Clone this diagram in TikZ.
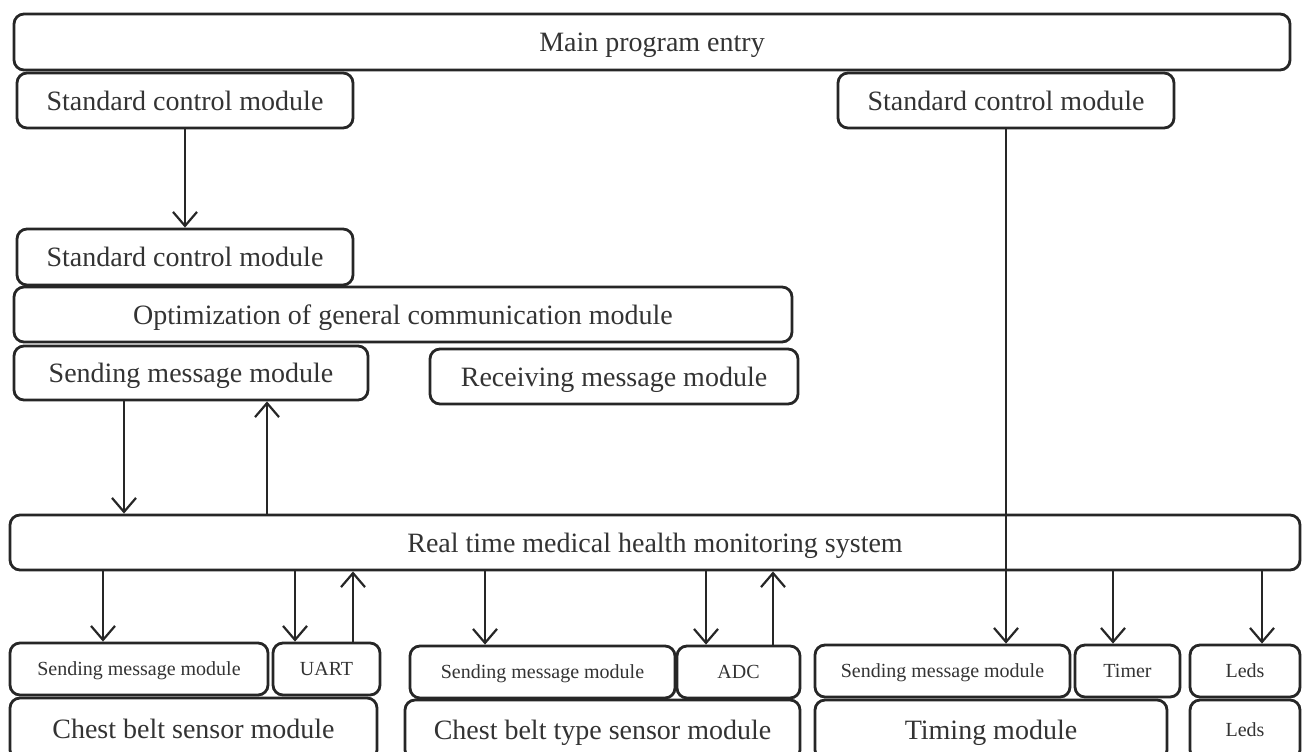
\documentclass[tikz,border=0pt]{standalone}
\usepackage{fontspec}
\setmainfont{Liberation Serif}
\usetikzlibrary{arrows.meta}
\begin{document}
\begin{tikzpicture}[x=0.5pt,y=-0.5pt,
  box/.style={draw=black!85, line width=1.4pt, rounded corners=5pt, inner sep=0pt,
    text depth=0pt, font=\fontsize{14}{16}\selectfont, text=black!80},
  sbox/.style={box, font=\fontsize{10}{12}\selectfont},
  arr/.style={draw=black!85, line width=1.1pt,
    -{Straight Barb[length=7pt,width=12pt,line width=1.1pt]}}]
\useasboundingbox (0,0) rectangle (1304,751);
\clip (0,0) rectangle (1304,751);
% top part
\node[box, minimum width=638pt, minimum height=28pt] (main) at (652,42) {Main program entry};
\node[box, minimum width=168pt, minimum height=27.5pt] (scmL) at (185,100.5) {Standard control module};
\node[box, minimum width=168pt, minimum height=27.5pt] (scmR) at (1006,100.5) {Standard control module};
\node[box, minimum width=168pt, minimum height=28pt] (scm2) at (185,257) {Standard control module};
\node[box, minimum width=389pt, minimum height=27.5pt] (opt) at (403,314.5) {Optimization\ of\ general\ communication\ module};
\node[box, minimum width=177pt, minimum height=27pt] (send) at (191,373) {Sending message module};
\node[box, minimum width=184pt, minimum height=27.5pt] (recv) at (614,376.5) {Receiving message module};
\node[box, minimum width=645pt, minimum height=27.5pt] (rt) at (655,542.5) {Real time medical health monitoring system};
% bottom row
\node[sbox, minimum width=129pt, minimum height=26pt] (s1) at (139,669) {Sending message module};
\node[sbox, minimum width=53.5pt, minimum height=26pt] (uart) at (326.5,669) {UART};
\node[box, minimum width=183.5pt, minimum height=31pt] (cb1) at (193.5,729) {Chest belt sensor module};
\node[sbox, minimum width=132.5pt, minimum height=26pt] (s2) at (542.5,672) {Sending message module};
\node[sbox, minimum width=61.5pt, minimum height=26pt] (adc) at (738.5,672) {ADC};
\node[box, minimum width=197.5pt, minimum height=30pt] (cb2) at (602.5,730) {Chest belt type sensor module};
\node[sbox, minimum width=127.5pt, minimum height=26pt] (s3) at (942.5,671) {Sending message module};
\node[sbox, minimum width=52.5pt, minimum height=26pt] (timer) at (1127.5,671) {Timer};
\node[box, minimum width=176pt, minimum height=30pt] (tm) at (991,730) {Timing module};
\node[sbox, minimum width=55pt, minimum height=26pt] (led1) at (1245,671) {Leds};
\node[sbox, minimum width=55pt, minimum height=30pt] (led2) at (1245,730) {Leds};
% connectors
\draw[arr] (scmL.south) -- (scm2.north);
\draw[arr] (124,0 |- send.south) -- (124,0 |- rt.north);
\draw[arr] (267,0 |- rt.north) -- (267,0 |- send.south);
\draw[arr] (103,0 |- rt.south) -- (103,0 |- s1.north);
\draw[arr] (295,0 |- rt.south) -- (295,0 |- uart.north);
\draw[arr] (353,0 |- uart.north) -- (353,0 |- rt.south);
\draw[arr] (485,0 |- rt.south) -- (485,0 |- s2.north);
\draw[arr] (706,0 |- rt.south) -- (706,0 |- adc.north);
\draw[arr] (773,0 |- adc.north) -- (773,0 |- rt.south);
\draw[arr] (scmR.south) -- (scmR.south |- s3.north);
\draw[arr] (1113,0 |- rt.south) -- (1113,0 |- timer.north);
\draw[arr] (1262,0 |- rt.south) -- (1262,0 |- led1.north);
\end{tikzpicture}
\end{document}
